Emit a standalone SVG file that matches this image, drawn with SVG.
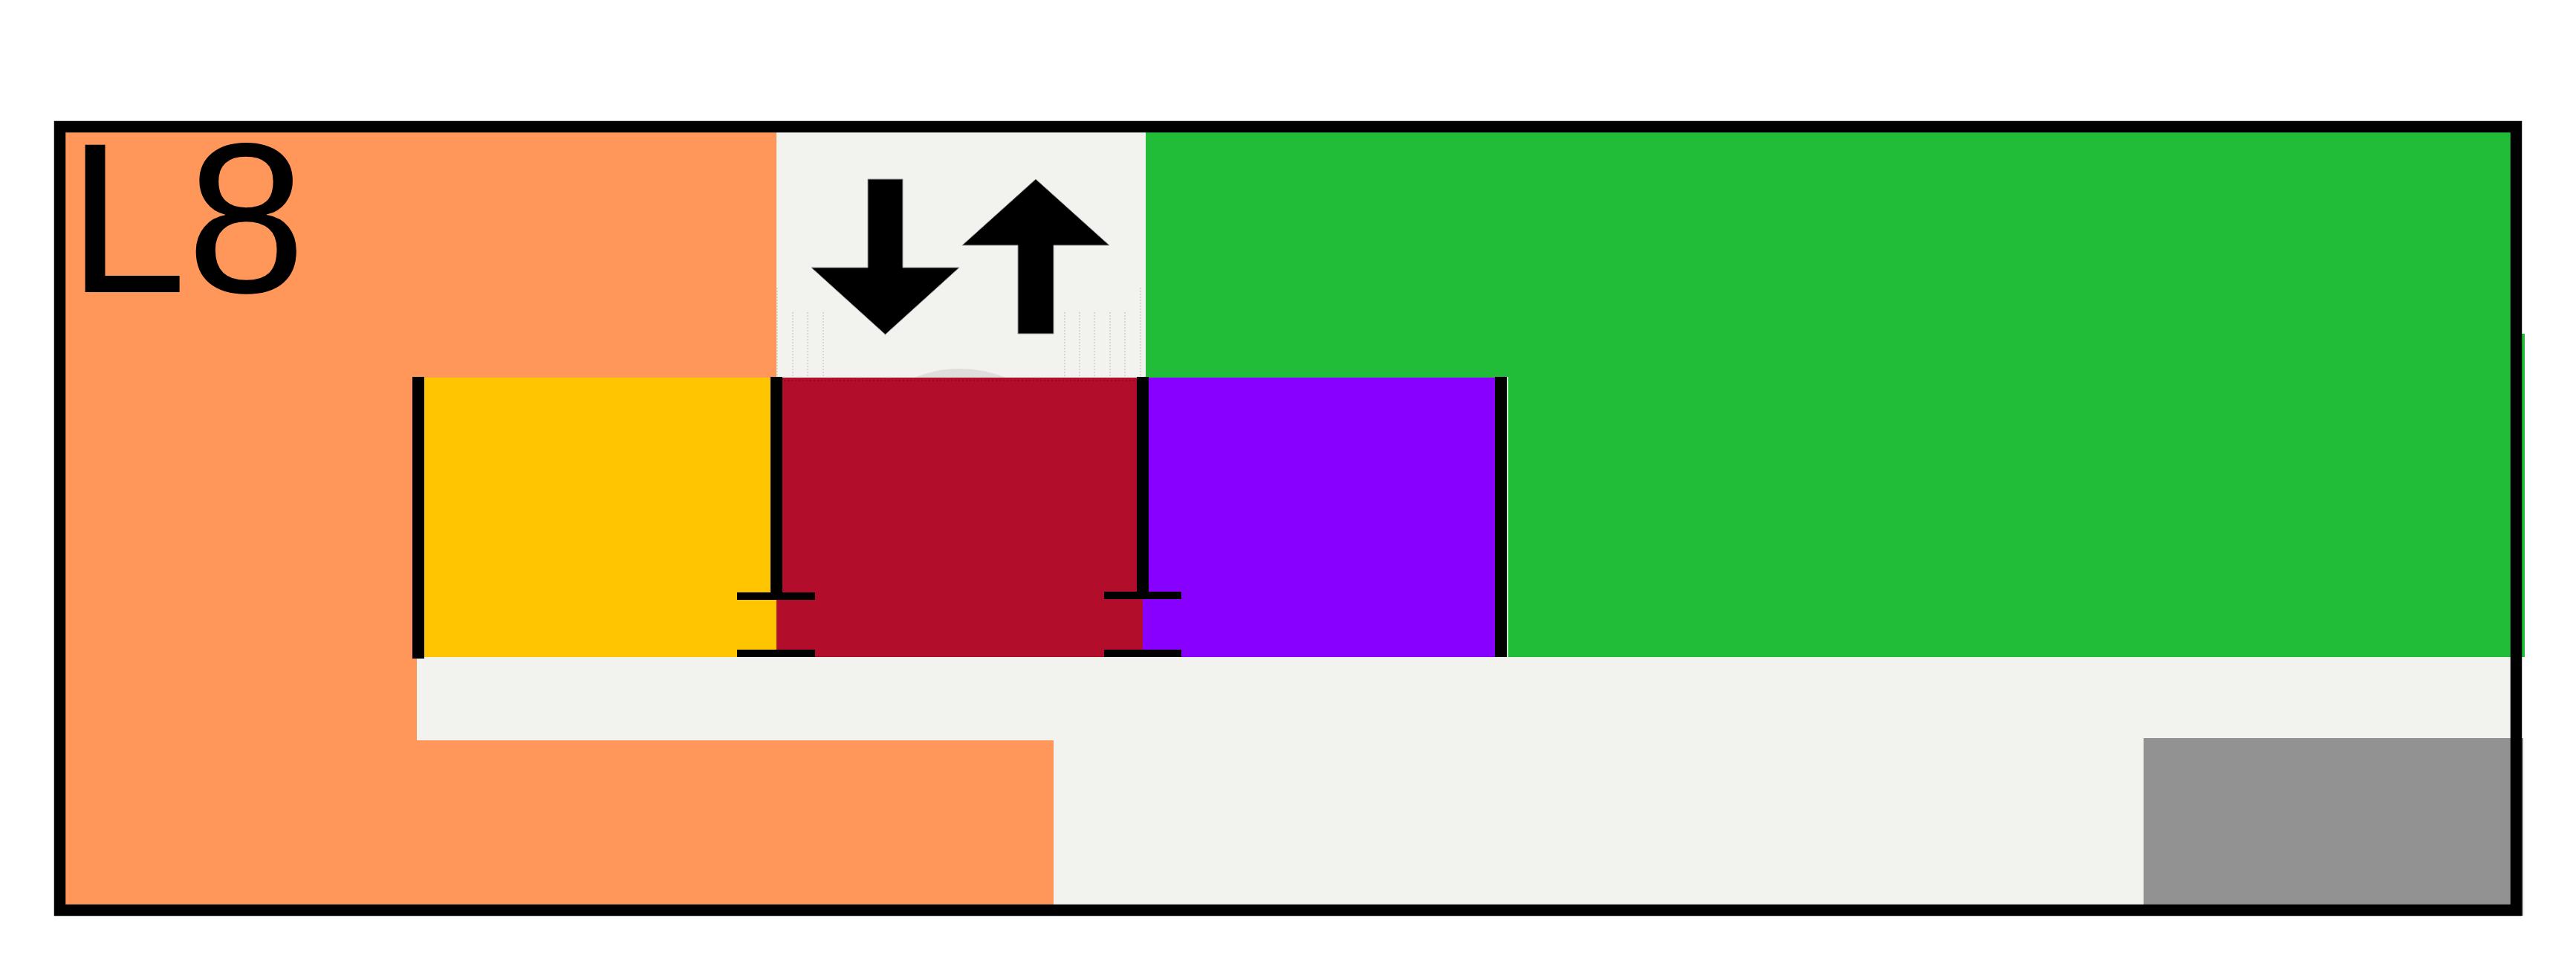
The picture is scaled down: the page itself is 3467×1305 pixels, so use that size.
<svg xmlns="http://www.w3.org/2000/svg" width="3467" height="1305" viewBox="0 0 3467 1305">
<style>
.floor{fill:#F2F3EE}
.orange{fill:#FF965A}
.green{fill:#21BC38}
.yellow{fill:#FFC500}
.red{fill:#B20E2C}
.purple{fill:#8800FF}
.grey{fill:#929292}
.wall{stroke:#000;stroke-width:16;fill:none}
.cap{fill:#000}
.dot{stroke:#C4C4C0;stroke-width:1.2;stroke-dasharray:2 2;fill:none}
.arrow{fill:#000;stroke:#9a9a9a;stroke-width:1}
.label{font-family:"Liberation Sans",Arial,sans-serif;font-size:288px;fill:#000}
</style>
<rect width="3467" height="1305" fill="#fff"/>
<g id="floor">
  <rect class="floor" x="80" y="170" width="3307" height="1055"/>
</g>
<g id="zone-orange">
  <polygon class="orange" points="80,170 1045,170 1045,508 561,508 561,996 1418,996 1418,1225 80,1225"/>
</g>
<g id="zone-green">
  <rect class="green" x="1542" y="170" width="1845" height="714"/>
  <rect class="green" x="3387" y="449" width="11" height="435"/>
</g>
<g id="zone-grey">
  <rect class="grey" x="2885" y="993" width="502" height="232"/>
  <rect class="grey" x="3387" y="993" width="9" height="239"/>
</g>
<g id="stair">
  <circle cx="1292" cy="662" r="166" fill="#DEDEDA"/>
  <g class="dot">
    <line x1="1046" y1="387" x2="1046" y2="508"/>
    <line x1="1067" y1="420" x2="1067" y2="508"/>
    <line x1="1087" y1="420" x2="1087" y2="508"/>
    <line x1="1108" y1="420" x2="1108" y2="508"/>
    <line x1="1433" y1="420" x2="1433" y2="508"/>
    <line x1="1453" y1="420" x2="1453" y2="508"/>
    <line x1="1473" y1="420" x2="1473" y2="508"/>
    <line x1="1494" y1="420" x2="1494" y2="508"/>
    <line x1="1514" y1="420" x2="1514" y2="508"/>
    <line x1="1535" y1="387" x2="1535" y2="508"/>
  </g>
  <polygon class="arrow" points="1168,241 1215,241 1215,360 1291,360 1191.5,450 1092,360 1168,360"/>
  <polygon class="arrow" points="1394,241 1493,330 1418,330 1418,449 1370,449 1370,330 1295,330"/>
</g>
<g id="room-yellow">
  <rect class="yellow" x="563" y="508" width="482" height="376"/>
</g>
<g id="room-red">
  <rect class="red" x="1045" y="508" width="493" height="376"/>
  <line x1="1045" y1="512" x2="1538" y2="512" stroke="#5a0010" stroke-width="1" stroke-dasharray="2 3" opacity="0.6"/>
</g>
<g id="room-purple">
  <rect class="purple" x="1538" y="508" width="482" height="376"/>
</g>
<g id="walls">
  <line class="wall" x1="563" y1="507" x2="563" y2="886"/>
  <line class="wall" x1="1045" y1="507" x2="1045" y2="798"/>
  <rect class="cap" x="992" y="797" width="105" height="10"/>
  <rect class="cap" x="992" y="874" width="105" height="10"/>
  <line class="wall" x1="1538" y1="507" x2="1538" y2="797"/>
  <rect class="cap" x="1486" y="796" width="104" height="10"/>
  <rect class="cap" x="1486" y="874" width="104" height="10"/>
  <line class="wall" x1="2020" y1="507" x2="2020" y2="884"/>
  <line x1="2029" y1="507" x2="2029" y2="884" stroke="#fff" stroke-width="1.5"/>
</g>
<g id="border">
  <rect x="80.5" y="170.5" width="3306" height="1054" fill="none" stroke="#000" stroke-width="15.5"/>
</g>
<g id="label">
  <text class="label" x="91" y="393">L8</text>
</g>
</svg>
